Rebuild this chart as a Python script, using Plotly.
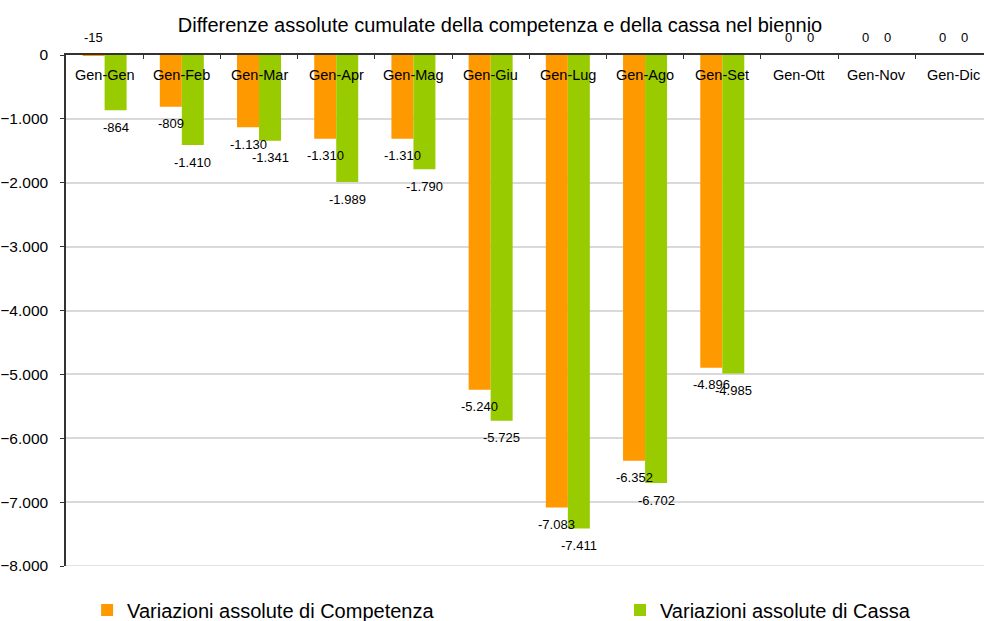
import plotly.graph_objects as go

categories = ["Gen-Gen", "Gen-Feb", "Gen-Mar", "Gen-Apr", "Gen-Mag", "Gen-Giu",
              "Gen-Lug", "Gen-Ago", "Gen-Set", "Gen-Ott", "Gen-Nov", "Gen-Dic"]
competenza = [-15, -809, -1130, -1310, -1310, -5240, -7083, -6352, -4896, 0, 0, 0]
cassa = [-864, -1410, -1341, -1989, -1790, -5725, -7411, -6702, -4985, 0, 0, 0]
y_ticks = [0, -1000, -2000, -3000, -4000, -5000, -6000, -7000, -8000]

ORANGE = "#FF9900"
GREEN = "#99CC00"
FONT = "Liberation Sans, Arial, sans-serif"

fig = go.Figure()
fig.add_trace(go.Bar(name="Variazioni assolute di Competenza", x=categories, y=competenza,
                     marker=dict(color=ORANGE, line=dict(width=0)), legend="legend"))
fig.add_trace(go.Bar(name="Variazioni assolute di Cassa", x=categories, y=cassa,
                     marker=dict(color=GREEN, line=dict(width=0)), legend="legend2"))

def fmt(v):
    s = f"{abs(v):,}".replace(",", ".")
    return ("-" if v < 0 else "") + s

annotations = []
for i, c in enumerate(categories):
    annotations.append(dict(x=c, y=0, xref="x", yref="y", text=c, showarrow=False,
                            yshift=-20, font=dict(size=14.5, color="#000000", family=FONT)))
for vals, xs in ((competenza, -11), (cassa, 11)):
    for c, v in zip(categories, vals):
        ys = 18 if abs(v) < 100 else -17
        annotations.append(dict(x=c, y=v, xref="x", yref="y", text=fmt(v), showarrow=False,
                                xshift=xs, yshift=ys,
                                font=dict(size=13, color="#000000", family=FONT)))

legend_common = dict(orientation="h", xanchor="left", y=-0.086, yanchor="middle",
                     font=dict(size=20, color="#000000", family=FONT),
                     bgcolor="rgba(0,0,0,0)")

fig.update_layout(
    width=984, height=621,
    margin=dict(l=66, r=0, t=55, b=55, autoexpand=False),
    paper_bgcolor="white", plot_bgcolor="white",
    font=dict(family=FONT, color="#000000"),
    separators=",.",
    title=dict(text="Differenze assolute cumulate della competenza e della cassa nel biennio",
               x=500 / 984, xanchor="center", y=1 - 25 / 621, yanchor="middle", yref="container",
               font=dict(size=20, color="#000000", family=FONT)),
    barmode="group", bargap=0.43, bargroupgap=0,
    showlegend=True,
    legend=dict(x=0.023, **legend_common),
    legend2=dict(x=0.6035, **legend_common),
    annotations=annotations,
    shapes=[dict(type="line", xref="paper", yref="y", x0=0, x1=1,
                 y0=min(y_ticks), y1=min(y_ticks), layer="below",
                 line=dict(color="#d9d9d9", width=1.5))],
)
fig.update_xaxes(type="category", side="top", range=[-0.5, 11.39], showticklabels=False,
                 showline=True, linecolor="#333333", linewidth=1.5,
                 ticks="inside", tickson="boundaries", ticklen=4, tickcolor="#333333",
                 showgrid=False, zeroline=False, fixedrange=True)
fig.update_yaxes(range=[-8000, 0], tickvals=y_ticks, tickformat=",d", automargin=False,
                 showline=True, linecolor="#333333", linewidth=1.5,
                 ticks="outside", ticklen=4, tickcolor="#333333", ticklabelstandoff=9,
                 showgrid=True, gridcolor="#d9d9d9", gridwidth=1.5, zeroline=False,
                 tickfont=dict(size=15.5, color="#000000", family=FONT))

fig.write_html("out.html", config={"displayModeBar": False},
               post_script="document.body.style.margin='0';document.body.style.padding='0';")
